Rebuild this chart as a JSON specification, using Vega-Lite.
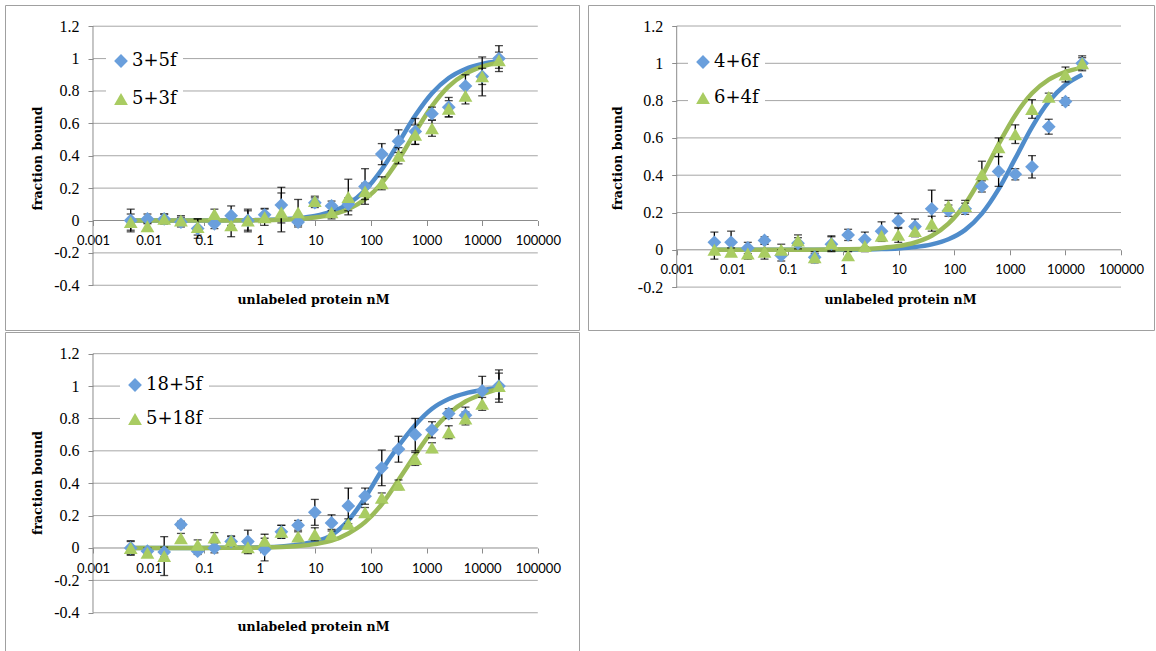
{
  "$schema": "https://vega.github.io/schema/vega-lite/v6.json",
  "background": "white",
  "padding": {"left": 4, "top": 4, "right": 3, "bottom": 1},
  "spacing": 0,
  "resolve": {"scale": {"x": "independent", "y": "independent", "color": "independent", "shape": "independent"}, "legend": {"color": "independent", "shape": "independent"}},
  "config": {
    "view": {"stroke": "#a0a0a0", "strokeWidth": 1},
    "axis": {"labelColor": "black", "titleColor": "black", "tickColor": "#8c8c8c", "labelOverlap": false},
    "axisY": {"labelOverlap": false},
    "legend": {"labelFont": "DejaVu Serif", "labelFontSize": 18, "labelColor": "black", "symbolSize": 190, "labelOffset": 2, "padding": 6, "fillColor": "white"}
  },
  "datasets": {
    "pts": [
      {"p":"A","s":"3+5f","x":0.004768,"y":0.0,"e":0.07},
      {"p":"A","s":"3+5f","x":0.009537,"y":0.01,"e":0.03},
      {"p":"A","s":"3+5f","x":0.01907,"y":0.01,"e":0.03},
      {"p":"A","s":"3+5f","x":0.03815,"y":-0.01,"e":0.03},
      {"p":"A","s":"3+5f","x":0.07629,"y":-0.05,"e":0.06},
      {"p":"A","s":"3+5f","x":0.1526,"y":-0.02,"e":0.03},
      {"p":"A","s":"3+5f","x":0.3052,"y":0.03,"e":0.06},
      {"p":"A","s":"3+5f","x":0.6104,"y":0.0,"e":0.07},
      {"p":"A","s":"3+5f","x":1.221,"y":0.035,"e":0.04},
      {"p":"A","s":"3+5f","x":2.441,"y":0.095,"e":0.11},
      {"p":"A","s":"3+5f","x":4.883,"y":-0.01,"e":0.03},
      {"p":"A","s":"3+5f","x":9.766,"y":0.11,"e":0.03},
      {"p":"A","s":"3+5f","x":19.53,"y":0.09,"e":0.03},
      {"p":"A","s":"3+5f","x":39.06,"y":0.10,"e":0.04},
      {"p":"A","s":"3+5f","x":78.13,"y":0.21,"e":0.11},
      {"p":"A","s":"3+5f","x":156.3,"y":0.41,"e":0.065},
      {"p":"A","s":"3+5f","x":312.5,"y":0.49,"e":0.07},
      {"p":"A","s":"3+5f","x":625,"y":0.55,"e":0.08},
      {"p":"A","s":"3+5f","x":1250,"y":0.66,"e":0.04},
      {"p":"A","s":"3+5f","x":2500,"y":0.70,"e":0.06},
      {"p":"A","s":"3+5f","x":5000,"y":0.83,"e":0.07},
      {"p":"A","s":"3+5f","x":10000,"y":0.89,"e":0.12},
      {"p":"A","s":"3+5f","x":20000,"y":1.0,"e":0.08},
      {"p":"A","s":"5+3f","x":0.004768,"y":-0.01,"e":0.05},
      {"p":"A","s":"5+3f","x":0.009537,"y":-0.035,"e":0.02},
      {"p":"A","s":"5+3f","x":0.01907,"y":0.01,"e":0.03},
      {"p":"A","s":"5+3f","x":0.03815,"y":0.0,"e":0.03},
      {"p":"A","s":"5+3f","x":0.07629,"y":-0.04,"e":0.05},
      {"p":"A","s":"5+3f","x":0.1526,"y":0.04,"e":0.03},
      {"p":"A","s":"5+3f","x":0.3052,"y":-0.03,"e":0.07},
      {"p":"A","s":"5+3f","x":0.6104,"y":0.0,"e":0.06},
      {"p":"A","s":"5+3f","x":1.221,"y":0.02,"e":0.05},
      {"p":"A","s":"5+3f","x":2.441,"y":0.05,"e":0.12},
      {"p":"A","s":"5+3f","x":4.883,"y":0.05,"e":0.08},
      {"p":"A","s":"5+3f","x":9.766,"y":0.12,"e":0.03},
      {"p":"A","s":"5+3f","x":19.53,"y":0.05,"e":0.04},
      {"p":"A","s":"5+3f","x":39.06,"y":0.145,"e":0.11},
      {"p":"A","s":"5+3f","x":78.13,"y":0.18,"e":0.05},
      {"p":"A","s":"5+3f","x":156.3,"y":0.23,"e":0.04},
      {"p":"A","s":"5+3f","x":312.5,"y":0.40,"e":0.05},
      {"p":"A","s":"5+3f","x":625,"y":0.53,"e":0.06},
      {"p":"A","s":"5+3f","x":1250,"y":0.57,"e":0.05},
      {"p":"A","s":"5+3f","x":2500,"y":0.69,"e":0.05},
      {"p":"A","s":"5+3f","x":5000,"y":0.77,"e":0.05},
      {"p":"A","s":"5+3f","x":10000,"y":0.89,"e":0.05},
      {"p":"A","s":"5+3f","x":20000,"y":0.99,"e":0.05},
      {"p":"B","s":"4+6f","x":0.004768,"y":0.04,"e":0.055},
      {"p":"B","s":"4+6f","x":0.009537,"y":0.04,"e":0.06},
      {"p":"B","s":"4+6f","x":0.01907,"y":0.01,"e":0.03},
      {"p":"B","s":"4+6f","x":0.03815,"y":0.05,"e":0.02},
      {"p":"B","s":"4+6f","x":0.07629,"y":-0.03,"e":0.03},
      {"p":"B","s":"4+6f","x":0.1526,"y":0.035,"e":0.03},
      {"p":"B","s":"4+6f","x":0.3052,"y":-0.04,"e":0.02},
      {"p":"B","s":"4+6f","x":0.6104,"y":0.03,"e":0.04},
      {"p":"B","s":"4+6f","x":1.221,"y":0.08,"e":0.03},
      {"p":"B","s":"4+6f","x":2.441,"y":0.055,"e":0.04},
      {"p":"B","s":"4+6f","x":4.883,"y":0.10,"e":0.05},
      {"p":"B","s":"4+6f","x":9.766,"y":0.155,"e":0.04},
      {"p":"B","s":"4+6f","x":19.53,"y":0.125,"e":0.04},
      {"p":"B","s":"4+6f","x":39.06,"y":0.22,"e":0.10},
      {"p":"B","s":"4+6f","x":78.13,"y":0.21,"e":0.03},
      {"p":"B","s":"4+6f","x":156.3,"y":0.22,"e":0.03},
      {"p":"B","s":"4+6f","x":312.5,"y":0.34,"e":0.03},
      {"p":"B","s":"4+6f","x":625,"y":0.42,"e":0.08},
      {"p":"B","s":"4+6f","x":1250,"y":0.405,"e":0.03},
      {"p":"B","s":"4+6f","x":2500,"y":0.445,"e":0.06},
      {"p":"B","s":"4+6f","x":5000,"y":0.66,"e":0.04},
      {"p":"B","s":"4+6f","x":10000,"y":0.795,"e":0.02},
      {"p":"B","s":"4+6f","x":20000,"y":1.0,"e":0.04},
      {"p":"B","s":"6+4f","x":0.004768,"y":0.0,"e":0.05},
      {"p":"B","s":"6+4f","x":0.009537,"y":-0.01,"e":0.02},
      {"p":"B","s":"6+4f","x":0.01907,"y":-0.02,"e":0.03},
      {"p":"B","s":"6+4f","x":0.03815,"y":-0.01,"e":0.04},
      {"p":"B","s":"6+4f","x":0.07629,"y":0.0,"e":0.03},
      {"p":"B","s":"6+4f","x":0.1526,"y":0.05,"e":0.03},
      {"p":"B","s":"6+4f","x":0.3052,"y":-0.04,"e":0.03},
      {"p":"B","s":"6+4f","x":0.6104,"y":0.035,"e":0.04},
      {"p":"B","s":"6+4f","x":1.221,"y":-0.03,"e":0.02},
      {"p":"B","s":"6+4f","x":2.441,"y":0.02,"e":0.03},
      {"p":"B","s":"6+4f","x":4.883,"y":0.075,"e":0.03},
      {"p":"B","s":"6+4f","x":9.766,"y":0.08,"e":0.04},
      {"p":"B","s":"6+4f","x":19.53,"y":0.10,"e":0.03},
      {"p":"B","s":"6+4f","x":39.06,"y":0.14,"e":0.04},
      {"p":"B","s":"6+4f","x":78.13,"y":0.235,"e":0.03},
      {"p":"B","s":"6+4f","x":156.3,"y":0.235,"e":0.03},
      {"p":"B","s":"6+4f","x":312.5,"y":0.405,"e":0.07},
      {"p":"B","s":"6+4f","x":625,"y":0.55,"e":0.05},
      {"p":"B","s":"6+4f","x":1250,"y":0.62,"e":0.05},
      {"p":"B","s":"6+4f","x":2500,"y":0.755,"e":0.05},
      {"p":"B","s":"6+4f","x":5000,"y":0.82,"e":0.02},
      {"p":"B","s":"6+4f","x":10000,"y":0.94,"e":0.04},
      {"p":"B","s":"6+4f","x":20000,"y":1.0,"e":0.03},
      {"p":"C","s":"18+5f","x":0.004768,"y":0.0,"e":0.045},
      {"p":"C","s":"18+5f","x":0.009537,"y":-0.02,"e":0.02},
      {"p":"C","s":"18+5f","x":0.01907,"y":-0.025,"e":0.03},
      {"p":"C","s":"18+5f","x":0.03815,"y":0.145,"e":0.02},
      {"p":"C","s":"18+5f","x":0.07629,"y":-0.02,"e":0.02},
      {"p":"C","s":"18+5f","x":0.1526,"y":0.0,"e":0.03},
      {"p":"C","s":"18+5f","x":0.3052,"y":0.04,"e":0.03},
      {"p":"C","s":"18+5f","x":0.6104,"y":0.04,"e":0.07},
      {"p":"C","s":"18+5f","x":1.221,"y":-0.01,"e":0.07},
      {"p":"C","s":"18+5f","x":2.441,"y":0.10,"e":0.04},
      {"p":"C","s":"18+5f","x":4.883,"y":0.14,"e":0.03},
      {"p":"C","s":"18+5f","x":9.766,"y":0.22,"e":0.08},
      {"p":"C","s":"18+5f","x":19.53,"y":0.155,"e":0.05},
      {"p":"C","s":"18+5f","x":39.06,"y":0.26,"e":0.11},
      {"p":"C","s":"18+5f","x":78.13,"y":0.32,"e":0.05},
      {"p":"C","s":"18+5f","x":156.3,"y":0.495,"e":0.11},
      {"p":"C","s":"18+5f","x":312.5,"y":0.61,"e":0.08},
      {"p":"C","s":"18+5f","x":625,"y":0.70,"e":0.10},
      {"p":"C","s":"18+5f","x":1250,"y":0.73,"e":0.05},
      {"p":"C","s":"18+5f","x":2500,"y":0.83,"e":0.03},
      {"p":"C","s":"18+5f","x":5000,"y":0.82,"e":0.05},
      {"p":"C","s":"18+5f","x":10000,"y":0.97,"e":0.09},
      {"p":"C","s":"18+5f","x":20000,"y":1.0,"e":0.10},
      {"p":"C","s":"5+18f","x":0.004768,"y":0.0,"e":0.04},
      {"p":"C","s":"5+18f","x":0.009537,"y":-0.03,"e":0.02},
      {"p":"C","s":"5+18f","x":0.01907,"y":-0.05,"e":0.12},
      {"p":"C","s":"5+18f","x":0.03815,"y":0.06,"e":0.03},
      {"p":"C","s":"5+18f","x":0.07629,"y":0.02,"e":0.03},
      {"p":"C","s":"5+18f","x":0.1526,"y":0.065,"e":0.03},
      {"p":"C","s":"5+18f","x":0.3052,"y":0.045,"e":0.03},
      {"p":"C","s":"5+18f","x":0.6104,"y":0.005,"e":0.04},
      {"p":"C","s":"5+18f","x":1.221,"y":0.045,"e":0.04},
      {"p":"C","s":"5+18f","x":2.441,"y":0.10,"e":0.04},
      {"p":"C","s":"5+18f","x":4.883,"y":0.07,"e":0.03},
      {"p":"C","s":"5+18f","x":9.766,"y":0.085,"e":0.04},
      {"p":"C","s":"5+18f","x":19.53,"y":0.085,"e":0.03},
      {"p":"C","s":"5+18f","x":39.06,"y":0.15,"e":0.03},
      {"p":"C","s":"5+18f","x":78.13,"y":0.22,"e":0.03},
      {"p":"C","s":"5+18f","x":156.3,"y":0.31,"e":0.03},
      {"p":"C","s":"5+18f","x":312.5,"y":0.39,"e":0.03},
      {"p":"C","s":"5+18f","x":625,"y":0.55,"e":0.04},
      {"p":"C","s":"5+18f","x":1250,"y":0.62,"e":0.03},
      {"p":"C","s":"5+18f","x":2500,"y":0.715,"e":0.04},
      {"p":"C","s":"5+18f","x":5000,"y":0.80,"e":0.04},
      {"p":"C","s":"5+18f","x":10000,"y":0.89,"e":0.04},
      {"p":"C","s":"5+18f","x":20000,"y":1.0,"e":0.08}
    ],
    "fit": [
      {"p":"A","s":"3+5f","x":0.004768,"y":0.0},{"p":"A","s":"3+5f","x":0.009537,"y":0.0},{"p":"A","s":"3+5f","x":0.01907,"y":0.0001},{"p":"A","s":"3+5f","x":0.03815,"y":0.0001},{"p":"A","s":"3+5f","x":0.07629,"y":0.0002},{"p":"A","s":"3+5f","x":0.1526,"y":0.0004},{"p":"A","s":"3+5f","x":0.3052,"y":0.0009},{"p":"A","s":"3+5f","x":0.6104,"y":0.0018},{"p":"A","s":"3+5f","x":1.221,"y":0.0036},{"p":"A","s":"3+5f","x":2.441,"y":0.0071},{"p":"A","s":"3+5f","x":4.883,"y":0.0142},{"p":"A","s":"3+5f","x":9.766,"y":0.0279},{"p":"A","s":"3+5f","x":19.53,"y":0.0543},{"p":"A","s":"3+5f","x":39.06,"y":0.103},{"p":"A","s":"3+5f","x":78.13,"y":0.187},{"p":"A","s":"3+5f","x":156.3,"y":0.315},{"p":"A","s":"3+5f","x":312.5,"y":0.479},{"p":"A","s":"3+5f","x":625,"y":0.648},{"p":"A","s":"3+5f","x":1250,"y":0.786},{"p":"A","s":"3+5f","x":2500,"y":0.88},{"p":"A","s":"3+5f","x":5000,"y":0.936},{"p":"A","s":"3+5f","x":10000,"y":0.967},{"p":"A","s":"3+5f","x":20000,"y":0.983},
      {"p":"A","s":"5+3f","x":0.004768,"y":0.0},{"p":"A","s":"5+3f","x":0.009537,"y":0.0},{"p":"A","s":"5+3f","x":0.01907,"y":0.0},{"p":"A","s":"5+3f","x":0.03815,"y":0.0001},{"p":"A","s":"5+3f","x":0.07629,"y":0.0001},{"p":"A","s":"5+3f","x":0.1526,"y":0.0003},{"p":"A","s":"5+3f","x":0.3052,"y":0.0006},{"p":"A","s":"5+3f","x":0.6104,"y":0.0012},{"p":"A","s":"5+3f","x":1.221,"y":0.0023},{"p":"A","s":"5+3f","x":2.441,"y":0.0047},{"p":"A","s":"5+3f","x":4.883,"y":0.0093},{"p":"A","s":"5+3f","x":9.766,"y":0.0184},{"p":"A","s":"5+3f","x":19.53,"y":0.0362},{"p":"A","s":"5+3f","x":39.06,"y":0.0699},{"p":"A","s":"5+3f","x":78.13,"y":0.131},{"p":"A","s":"5+3f","x":156.3,"y":0.231},{"p":"A","s":"5+3f","x":312.5,"y":0.375},{"p":"A","s":"5+3f","x":625,"y":0.546},{"p":"A","s":"5+3f","x":1250,"y":0.706},{"p":"A","s":"5+3f","x":2500,"y":0.828},{"p":"A","s":"5+3f","x":5000,"y":0.906},{"p":"A","s":"5+3f","x":10000,"y":0.951},{"p":"A","s":"5+3f","x":20000,"y":0.975},
      {"p":"B","s":"4+6f","x":0.004768,"y":0.0},{"p":"B","s":"4+6f","x":0.009537,"y":0.0},{"p":"B","s":"4+6f","x":0.01907,"y":0.0},{"p":"B","s":"4+6f","x":0.03815,"y":0.0},{"p":"B","s":"4+6f","x":0.07629,"y":0.0001},{"p":"B","s":"4+6f","x":0.1526,"y":0.0001},{"p":"B","s":"4+6f","x":0.3052,"y":0.0002},{"p":"B","s":"4+6f","x":0.6104,"y":0.0005},{"p":"B","s":"4+6f","x":1.221,"y":0.0009},{"p":"B","s":"4+6f","x":2.441,"y":0.0019},{"p":"B","s":"4+6f","x":4.883,"y":0.0037},{"p":"B","s":"4+6f","x":9.766,"y":0.0075},{"p":"B","s":"4+6f","x":19.53,"y":0.0148},{"p":"B","s":"4+6f","x":39.06,"y":0.0292},{"p":"B","s":"4+6f","x":78.13,"y":0.0567},{"p":"B","s":"4+6f","x":156.3,"y":0.107},{"p":"B","s":"4+6f","x":312.5,"y":0.194},{"p":"B","s":"4+6f","x":625,"y":0.325},{"p":"B","s":"4+6f","x":1250,"y":0.49},{"p":"B","s":"4+6f","x":2500,"y":0.658},{"p":"B","s":"4+6f","x":5000,"y":0.794},{"p":"B","s":"4+6f","x":10000,"y":0.885},{"p":"B","s":"4+6f","x":20000,"y":0.939},
      {"p":"B","s":"6+4f","x":0.004768,"y":0.0},{"p":"B","s":"6+4f","x":0.009537,"y":0.0},{"p":"B","s":"6+4f","x":0.01907,"y":0.0},{"p":"B","s":"6+4f","x":0.03815,"y":0.0001},{"p":"B","s":"6+4f","x":0.07629,"y":0.0002},{"p":"B","s":"6+4f","x":0.1526,"y":0.0003},{"p":"B","s":"6+4f","x":0.3052,"y":0.0006},{"p":"B","s":"6+4f","x":0.6104,"y":0.0013},{"p":"B","s":"6+4f","x":1.221,"y":0.0025},{"p":"B","s":"6+4f","x":2.441,"y":0.0051},{"p":"B","s":"6+4f","x":4.883,"y":0.0101},{"p":"B","s":"6+4f","x":9.766,"y":0.0199},{"p":"B","s":"6+4f","x":19.53,"y":0.0391},{"p":"B","s":"6+4f","x":39.06,"y":0.0753},{"p":"B","s":"6+4f","x":78.13,"y":0.14},{"p":"B","s":"6+4f","x":156.3,"y":0.246},{"p":"B","s":"6+4f","x":312.5,"y":0.394},{"p":"B","s":"6+4f","x":625,"y":0.566},{"p":"B","s":"6+4f","x":1250,"y":0.722},{"p":"B","s":"6+4f","x":2500,"y":0.839},{"p":"B","s":"6+4f","x":5000,"y":0.912},{"p":"B","s":"6+4f","x":10000,"y":0.954},{"p":"B","s":"6+4f","x":20000,"y":0.977},
      {"p":"C","s":"18+5f","x":0.004768,"y":0.0},{"p":"C","s":"18+5f","x":0.009537,"y":0.0},{"p":"C","s":"18+5f","x":0.01907,"y":0.0},{"p":"C","s":"18+5f","x":0.03815,"y":0.0},{"p":"C","s":"18+5f","x":0.07629,"y":0.0005},{"p":"C","s":"18+5f","x":0.1526,"y":0.001},{"p":"C","s":"18+5f","x":0.3052,"y":0.002},{"p":"C","s":"18+5f","x":0.6104,"y":0.003},{"p":"C","s":"18+5f","x":1.221,"y":0.005},{"p":"C","s":"18+5f","x":2.441,"y":0.01},{"p":"C","s":"18+5f","x":4.883,"y":0.02},{"p":"C","s":"18+5f","x":9.766,"y":0.04},{"p":"C","s":"18+5f","x":19.53,"y":0.08},{"p":"C","s":"18+5f","x":39.06,"y":0.17},{"p":"C","s":"18+5f","x":78.13,"y":0.31},{"p":"C","s":"18+5f","x":156.3,"y":0.48},{"p":"C","s":"18+5f","x":312.5,"y":0.63},{"p":"C","s":"18+5f","x":625,"y":0.76},{"p":"C","s":"18+5f","x":1250,"y":0.86},{"p":"C","s":"18+5f","x":2500,"y":0.92},{"p":"C","s":"18+5f","x":5000,"y":0.955},{"p":"C","s":"18+5f","x":10000,"y":0.975},{"p":"C","s":"18+5f","x":20000,"y":0.99},
      {"p":"C","s":"5+18f","x":0.004768,"y":0.0},{"p":"C","s":"5+18f","x":0.009537,"y":0.0},{"p":"C","s":"5+18f","x":0.01907,"y":0.0},{"p":"C","s":"5+18f","x":0.03815,"y":0.0},{"p":"C","s":"5+18f","x":0.07629,"y":0.0},{"p":"C","s":"5+18f","x":0.1526,"y":0.0005},{"p":"C","s":"5+18f","x":0.3052,"y":0.001},{"p":"C","s":"5+18f","x":0.6104,"y":0.0015},{"p":"C","s":"5+18f","x":1.221,"y":0.003},{"p":"C","s":"5+18f","x":2.441,"y":0.006},{"p":"C","s":"5+18f","x":4.883,"y":0.012},{"p":"C","s":"5+18f","x":9.766,"y":0.024},{"p":"C","s":"5+18f","x":19.53,"y":0.045},{"p":"C","s":"5+18f","x":39.06,"y":0.09},{"p":"C","s":"5+18f","x":78.13,"y":0.16},{"p":"C","s":"5+18f","x":156.3,"y":0.27},{"p":"C","s":"5+18f","x":312.5,"y":0.42},{"p":"C","s":"5+18f","x":625,"y":0.575},{"p":"C","s":"5+18f","x":1250,"y":0.72},{"p":"C","s":"5+18f","x":2500,"y":0.83},{"p":"C","s":"5+18f","x":5000,"y":0.905},{"p":"C","s":"5+18f","x":10000,"y":0.95},{"p":"C","s":"5+18f","x":20000,"y":0.985}
    ]
  },
  "vconcat": [
    {
      "hconcat": [
        {
          "width": 574, "height": 325,
          "layer": [
            {"data": {"values": [{"g":-0.4},{"g":-0.2},{"g":0.2},{"g":0.4},{"g":0.6},{"g":0.8},{"g":1},{"g":1.2}]},
             "mark": {"type": "rule", "color": "#a6a6a6", "strokeWidth": 1},
             "encoding": {"x": {"datum": 0.001, "type": "quantitative", "title": "unlabeled protein nM"}, "x2": {"datum": 100000}, "y": {"field": "g", "type": "quantitative", "title": "fraction bound"}}},
            {"data": {"values": [{"k": 1}]},
             "mark": {"type": "rule", "color": "#8c8c8c", "strokeWidth": 1},
             "encoding": {"x": {"datum": 0.001, "type": "quantitative", "title": "unlabeled protein nM"}, "y": {"datum": -0.4, "type": "quantitative", "title": "fraction bound"}, "y2": {"datum": 1.2}}},
            {"data": {"values": [{"k": 1}]},
             "mark": {"type": "rule", "color": "#8c8c8c", "strokeWidth": 1},
             "encoding": {"x": {"datum": 0.001, "type": "quantitative", "title": "unlabeled protein nM"}, "x2": {"datum": 100000}, "y": {"datum": 0, "type": "quantitative", "title": "fraction bound"}}},
            {"data": {"name": "fit"}, "transform": [{"filter": "datum.p == 'A' && datum.s == '3+5f'"}],
             "mark": {"type": "line", "strokeWidth": 4.5, "interpolate": "monotone", "color": "#4f8ccb"},
             "encoding": {"x": {"field": "x", "type": "quantitative", "title": "unlabeled protein nM"}, "y": {"field": "y", "type": "quantitative", "title": "fraction bound"}}},
            {"data": {"name": "fit"}, "transform": [{"filter": "datum.p == 'A' && datum.s == '5+3f'"}],
             "mark": {"type": "line", "strokeWidth": 4.5, "interpolate": "monotone", "color": "#9bbb59"},
             "encoding": {"x": {"field": "x", "type": "quantitative", "title": "unlabeled protein nM"}, "y": {"field": "y", "type": "quantitative", "title": "fraction bound"}}},
            {"data": {"name": "pts"}, "transform": [{"filter": "datum.p == 'A'"}],
             "mark": {"type": "errorbar", "ticks": true, "size": 8, "thickness": 1.3, "color": "black"},
             "encoding": {"x": {"field": "x", "type": "quantitative", "title": "unlabeled protein nM"}, "y": {"field": "y", "type": "quantitative", "title": "fraction bound"}, "yError": {"field": "e"}}},
            {"data": {"name": "pts"}, "transform": [{"filter": "datum.p == 'A'"}],
             "mark": {"type": "point", "filled": true, "opacity": 1, "size": 190},
             "encoding": {
               "x": {"field": "x", "type": "quantitative", "title": "unlabeled protein nM",
                 "scale": {"type": "log", "domain": [2.614e-5, 550800], "nice": false},
                 "axis": {"orient": "bottom", "offset": -109.5, "values": [0.001,0.01,0.1,1,10,100,1000,10000,100000], "tickCount": 30, "labelExpr": "'' + datum.value", "domain": false, "grid": false, "tickSize": 5, "labelPadding": 9, "labelFont": "Lato", "labelFontSize": 13, "labelFlush": false, "labelOverlap": false, "titleFont": "DejaVu Serif", "titleFontWeight": "bold", "titleFontSize": 12.5, "titleX": 308, "titleY": 78.5, "titleAlign": "center", "titleBaseline": "middle", "titleAngle": 0}},
               "y": {"field": "y", "type": "quantitative", "title": "fraction bound",
                 "scale": {"domain": [-0.6763, 1.331], "nice": false, "zero": false},
                 "axis": {"orient": "left", "offset": -88, "values": [-0.4,-0.2,0,0.2,0.4,0.6,0.8,1,1.2], "tickCount": 30, "labelExpr": "'' + datum.value", "domain": false, "grid": false, "tickSize": 5, "labelPadding": 9, "labelFont": "Liberation Serif", "labelFontSize": 16, "labelFlush": false, "labelOverlap": false, "titleFont": "DejaVu Serif", "titleFontWeight": "bold", "titleFontSize": 12.5, "titleX": -55.3, "titleY": 153, "titleAngle": -90, "titleAlign": "center", "titleBaseline": "middle"}},
               "color": {"field": "s", "type": "nominal", "scale": {"domain": ["3+5f","5+3f"], "range": ["#6a9fdc","#a9cc62"]},
                 "legend": {"orient": "none", "legendX": 101, "legendY": 41, "title": null, "rowPadding": 20}},
               "shape": {"field": "s", "type": "nominal", "scale": {"domain": ["3+5f","5+3f"], "range": ["diamond","triangle-up"]},
                 "legend": {"orient": "none", "legendX": 101, "legendY": 41, "title": null, "rowPadding": 20}}
             }}
          ]
        },
        {
          "width": 566, "height": 325,
          "layer": [
            {"data": {"values": [{"g":-0.2},{"g":0.2},{"g":0.4},{"g":0.6},{"g":0.8},{"g":1},{"g":1.2}]},
             "mark": {"type": "rule", "color": "#a6a6a6", "strokeWidth": 1},
             "encoding": {"x": {"datum": 0.001, "type": "quantitative", "title": "unlabeled protein nM"}, "x2": {"datum": 100000}, "y": {"field": "g", "type": "quantitative", "title": "fraction bound"}}},
            {"data": {"values": [{"k": 1}]},
             "mark": {"type": "rule", "color": "#8c8c8c", "strokeWidth": 1},
             "encoding": {"x": {"datum": 0.001, "type": "quantitative", "title": "unlabeled protein nM"}, "y": {"datum": -0.2, "type": "quantitative", "title": "fraction bound"}, "y2": {"datum": 1.2}}},
            {"data": {"values": [{"k": 1}]},
             "mark": {"type": "rule", "color": "#8c8c8c", "strokeWidth": 1},
             "encoding": {"x": {"datum": 0.001, "type": "quantitative", "title": "unlabeled protein nM"}, "x2": {"datum": 100000}, "y": {"datum": 0, "type": "quantitative", "title": "fraction bound"}}},
            {"data": {"name": "fit"}, "transform": [{"filter": "datum.p == 'B' && datum.s == '4+6f'"}],
             "mark": {"type": "line", "strokeWidth": 4.5, "interpolate": "monotone", "color": "#4f8ccb"},
             "encoding": {"x": {"field": "x", "type": "quantitative", "title": "unlabeled protein nM"}, "y": {"field": "y", "type": "quantitative", "title": "fraction bound"}}},
            {"data": {"name": "fit"}, "transform": [{"filter": "datum.p == 'B' && datum.s == '6+4f'"}],
             "mark": {"type": "line", "strokeWidth": 4.5, "interpolate": "monotone", "color": "#9bbb59"},
             "encoding": {"x": {"field": "x", "type": "quantitative", "title": "unlabeled protein nM"}, "y": {"field": "y", "type": "quantitative", "title": "fraction bound"}}},
            {"data": {"name": "pts"}, "transform": [{"filter": "datum.p == 'B'"}],
             "mark": {"type": "errorbar", "ticks": true, "size": 8, "thickness": 1.3, "color": "black"},
             "encoding": {"x": {"field": "x", "type": "quantitative", "title": "unlabeled protein nM"}, "y": {"field": "y", "type": "quantitative", "title": "fraction bound"}, "yError": {"field": "e"}}},
            {"data": {"name": "pts"}, "transform": [{"filter": "datum.p == 'B'"}],
             "mark": {"type": "point", "filled": true, "opacity": 1, "size": 190},
             "encoding": {
               "x": {"field": "x", "type": "quantitative", "title": "unlabeled protein nM",
                 "scale": {"type": "log", "domain": [2.529e-5, 392700], "nice": false},
                 "axis": {"orient": "bottom", "offset": -80.2, "values": [0.001,0.01,0.1,1,10,100,1000,10000,100000], "tickCount": 30, "labelExpr": "'' + datum.value", "domain": false, "grid": false, "tickSize": 5, "labelPadding": 9, "labelFont": "Lato", "labelFontSize": 13, "labelFlush": false, "labelOverlap": false, "titleFont": "DejaVu Serif", "titleFontWeight": "bold", "titleFontSize": 12.5, "titleX": 312, "titleY": 49.2, "titleAlign": "center", "titleBaseline": "middle", "titleAngle": 0}},
               "y": {"field": "y", "type": "quantitative", "title": "fraction bound",
                 "scale": {"domain": [-0.43, 1.3126], "nice": false, "zero": false},
                 "axis": {"orient": "left", "offset": -88.7, "values": [-0.2,0,0.2,0.4,0.6,0.8,1,1.2], "tickCount": 30, "labelExpr": "'' + datum.value", "domain": false, "grid": false, "tickSize": 5, "labelPadding": 9, "labelFont": "Liberation Serif", "labelFontSize": 16, "labelFlush": false, "labelOverlap": false, "titleFont": "DejaVu Serif", "titleFontWeight": "bold", "titleFontSize": 12.5, "titleX": -59, "titleY": 152.7, "titleAngle": -90, "titleAlign": "center", "titleBaseline": "middle"}},
               "color": {"field": "s", "type": "nominal", "scale": {"domain": ["4+6f","6+4f"], "range": ["#6a9fdc","#a9cc62"]},
                 "legend": {"orient": "none", "legendX": 100, "legendY": 42, "title": null, "rowPadding": 18}},
               "shape": {"field": "s", "type": "nominal", "scale": {"domain": ["4+6f","6+4f"], "range": ["diamond","triangle-up"]},
                 "legend": {"orient": "none", "legendX": 100, "legendY": 42, "title": null, "rowPadding": 18}}
             }}
          ]
        }
      ],
      "spacing": 9,
      "bounds": "flush",
      "resolve": {"scale": {"x": "independent", "y": "independent", "color": "independent", "shape": "independent"}, "legend": {"color": "independent", "shape": "independent"}}
    },
    {
      "width": 574, "height": 320,
      "layer": [
        {"data": {"values": [{"g":-0.4},{"g":-0.2},{"g":0.2},{"g":0.4},{"g":0.6},{"g":0.8},{"g":1},{"g":1.2}]},
         "mark": {"type": "rule", "color": "#a6a6a6", "strokeWidth": 1},
         "encoding": {"x": {"datum": 0.001, "type": "quantitative", "title": "unlabeled protein nM"}, "x2": {"datum": 100000}, "y": {"field": "g", "type": "quantitative", "title": "fraction bound"}}},
        {"data": {"values": [{"k": 1}]},
         "mark": {"type": "rule", "color": "#8c8c8c", "strokeWidth": 1},
         "encoding": {"x": {"datum": 0.001, "type": "quantitative", "title": "unlabeled protein nM"}, "y": {"datum": -0.4, "type": "quantitative", "title": "fraction bound"}, "y2": {"datum": 1.2}}},
        {"data": {"values": [{"k": 1}]},
         "mark": {"type": "rule", "color": "#8c8c8c", "strokeWidth": 1},
         "encoding": {"x": {"datum": 0.001, "type": "quantitative", "title": "unlabeled protein nM"}, "x2": {"datum": 100000}, "y": {"datum": 0, "type": "quantitative", "title": "fraction bound"}}},
        {"data": {"name": "fit"}, "transform": [{"filter": "datum.p == 'C' && datum.s == '18+5f'"}],
         "mark": {"type": "line", "strokeWidth": 4.5, "interpolate": "monotone", "color": "#4f8ccb"},
         "encoding": {"x": {"field": "x", "type": "quantitative", "title": "unlabeled protein nM"}, "y": {"field": "y", "type": "quantitative", "title": "fraction bound"}}},
        {"data": {"name": "fit"}, "transform": [{"filter": "datum.p == 'C' && datum.s == '5+18f'"}],
         "mark": {"type": "line", "strokeWidth": 4.5, "interpolate": "monotone", "color": "#9bbb59"},
         "encoding": {"x": {"field": "x", "type": "quantitative", "title": "unlabeled protein nM"}, "y": {"field": "y", "type": "quantitative", "title": "fraction bound"}}},
        {"data": {"name": "pts"}, "transform": [{"filter": "datum.p == 'C'"}],
         "mark": {"type": "errorbar", "ticks": true, "size": 8, "thickness": 1.3, "color": "black"},
         "encoding": {"x": {"field": "x", "type": "quantitative", "title": "unlabeled protein nM"}, "y": {"field": "y", "type": "quantitative", "title": "fraction bound"}, "yError": {"field": "e"}}},
        {"data": {"name": "pts"}, "transform": [{"filter": "datum.p == 'C'"}],
         "mark": {"type": "point", "filled": true, "opacity": 1, "size": 190},
         "encoding": {
           "x": {"field": "x", "type": "quantitative", "title": "unlabeled protein nM",
             "scale": {"type": "log", "domain": [2.614e-5, 550800], "nice": false},
             "axis": {"orient": "bottom", "offset": -104, "values": [0.001,0.01,0.1,1,10,100,1000,10000,100000], "tickCount": 30, "labelExpr": "'' + datum.value", "domain": false, "grid": false, "tickSize": 5, "labelPadding": 9, "labelFont": "Lato", "labelFontSize": 13, "labelFlush": false, "labelOverlap": false, "titleFont": "DejaVu Serif", "titleFontWeight": "bold", "titleFontSize": 12.5, "titleX": 308, "titleY": 78, "titleAlign": "center", "titleBaseline": "middle", "titleAngle": 0}},
           "y": {"field": "y", "type": "quantitative", "title": "fraction bound",
             "scale": {"domain": [-0.6424, 1.334], "nice": false, "zero": false},
             "axis": {"orient": "left", "offset": -88, "values": [-0.4,-0.2,0,0.2,0.4,0.6,0.8,1,1.2], "tickCount": 30, "labelExpr": "'' + datum.value", "domain": false, "grid": false, "tickSize": 5, "labelPadding": 9, "labelFont": "Liberation Serif", "labelFontSize": 16, "labelFlush": false, "labelOverlap": false, "titleFont": "DejaVu Serif", "titleFontWeight": "bold", "titleFontSize": 12.5, "titleX": -55.3, "titleY": 150.5, "titleAngle": -90, "titleAlign": "center", "titleBaseline": "middle"}},
           "color": {"field": "s", "type": "nominal", "scale": {"domain": ["18+5f","5+18f"], "range": ["#6a9fdc","#a9cc62"]},
             "legend": {"orient": "none", "legendX": 115, "legendY": 38, "title": null, "rowPadding": 16}},
           "shape": {"field": "s", "type": "nominal", "scale": {"domain": ["18+5f","5+18f"], "range": ["diamond","triangle-up"]},
             "legend": {"orient": "none", "legendX": 115, "legendY": 38, "title": null, "rowPadding": 16}}
         }}
      ]
    }
  ]
}
